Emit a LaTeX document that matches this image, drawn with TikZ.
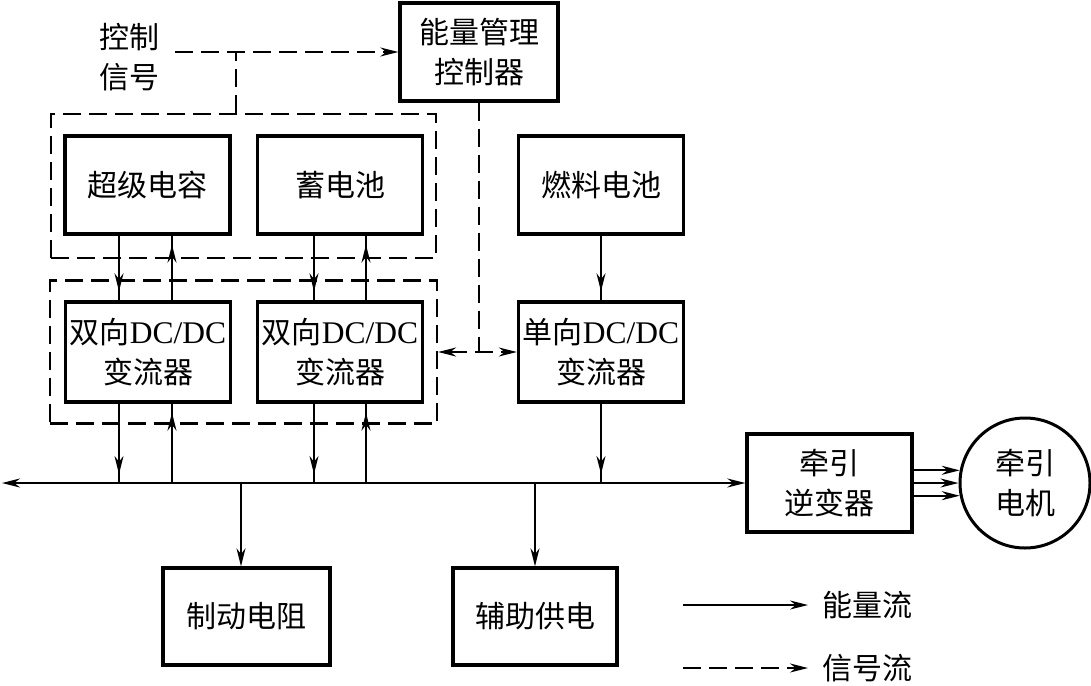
\documentclass[tikz,border=0pt]{standalone}
\usepackage{fontspec}
\setmainfont{Noto Sans CJK SC}
\newfontfamily\lat[Scale=1.05]{Liberation Serif}
\usetikzlibrary{arrows.meta,decorations.markings}
\newcommand{\txt}{\fontsize{30}{40}\selectfont}
\begin{document}
\begin{tikzpicture}[x=1pt,y=-1pt,
  box/.style={draw, line width=3.4pt, minimum width=165pt, minimum height=98pt, align=center, font=\txt, inner sep=0pt},
  grp/.style={draw, line width=2.2pt, dash pattern=on 18pt off 8pt, inner sep=0pt},
  pw/.style={line width=2pt},
  sig/.style={line width=2.2pt, dash pattern=on 18pt off 8pt},
  tip/.style={-{Stealth[length=18pt,width=9pt]}},
  tips/.style={{Stealth[length=18pt,width=9pt]}-{Stealth[length=18pt,width=9pt]}},
  mid/.style={postaction={decorate}, decoration={markings, mark=at position -9pt with {\arrow{Stealth[length=18pt,width=9pt]}}}},
  lbl/.style={font=\txt, align=center}
  ]
\useasboundingbox (0,0) rectangle (1091,685);

% groups
\node[grp, minimum width=385pt, minimum height=144pt] (gtop) at (243.5,186) {};
\node[grp, minimum width=387pt, minimum height=143pt] (gbot) at (243.5,352) {};

% boxes
\node[box, minimum width=158pt] (ems) at (479,52) {能量管理\\控制器};
\node[box] (sc) at (147.5,185) {超级电容};
\node[box] (bat) at (340,185) {蓄电池};
\node[box] (fc) at (601,185) {燃料电池};
\node[box, minimum height=100pt] (dc1) at (148,352) {双向{\lat DC/DC}\\变流器};
\node[box, minimum height=100pt] (dc2) at (340,352) {双向{\lat DC/DC}\\变流器};
\node[box, minimum height=100pt] (uni) at (601,352) {单向{\lat DC/DC}\\变流器};
\node[box] (inv) at (829.5,483) {牵引\\逆变器};
\node[draw, circle, line width=3pt, minimum size=130pt, inner sep=0pt, lbl] (motor) at (1025,483) {牵引\\电机};
\node[box, minimum width=167pt, minimum height=97pt] (brake) at (246.5,616.5) {制动电阻};
\node[box, minimum width=164pt, minimum height=97pt] (aux) at (535,616.5) {辅助供电};

% control text
\node[lbl, inner xsep=16pt, inner ysep=0pt] (ctrl) at (129,57) {控制\\信号};

% helper coordinates
\coordinate (a1) at (119,0);
\coordinate (b1) at (172,0);
\coordinate (a2) at (314,0);
\coordinate (b2) at (366,0);
\coordinate (jx) at (236,52);
\coordinate (busL) at (2,483);
\coordinate (brk) at (241,0);

% signal lines
\draw[sig,tip] (ctrl.east |- ems.west) -- (ems.west);
\draw[sig] (gtop.north -| jx) -- (jx);
\draw[sig] (ems.south) -- (ems.south |- gbot.east);
\draw[sig,tips] (gbot.east) -- (uni.west);

% storage <-> converters
\draw[pw,mid] (sc.south -| a1) -- (dc1.north -| a1);
\draw[pw,mid] (dc1.north -| b1) -- (sc.south -| b1);
\draw[pw,mid] (bat.south -| a2) -- (dc2.north -| a2);
\draw[pw,mid] (dc2.north -| b2) -- (bat.south -| b2);
\draw[pw,mid] (fc.south) -- (uni.north);

% bus
\draw[pw,tips] (busL) -- (inv.west);
\draw[pw,mid] (dc1.south -| a1) -- (busL -| a1);
\draw[pw,mid] (busL -| b1) -- (dc1.south -| b1);
\draw[pw,mid] (dc2.south -| a2) -- (busL -| a2);
\draw[pw,mid] (busL -| b2) -- (dc2.south -| b2);
\draw[pw,mid] (uni.south) -- (busL -| uni.south);
\draw[pw,tip] (busL -| brk) -- (brake.north -| brk);
\draw[pw,tip] (busL -| aux.north) -- (aux.north);

% inverter -> motor
\draw[pw,tip] (inv.east |- motor.169) -- (motor.169);
\draw[pw,tip] (inv.east |- motor.west) -- (motor.west);
\draw[pw,tip] (inv.east |- motor.191) -- (motor.191);

% legend
\coordinate (l1) at (683,605);
\coordinate (l2) at (683,668);
\node[lbl, anchor=west, inner xsep=14pt, inner ysep=0pt] (lt1) at (808,605) {能量流};
\node[lbl, anchor=west, inner xsep=14pt, inner ysep=0pt] (lt2) at (808,668) {信号流};
\draw[pw,tip] (l1) -- (lt1.west);
\draw[sig,tip] (l2) -- (lt2.west);
\end{tikzpicture}
\end{document}
